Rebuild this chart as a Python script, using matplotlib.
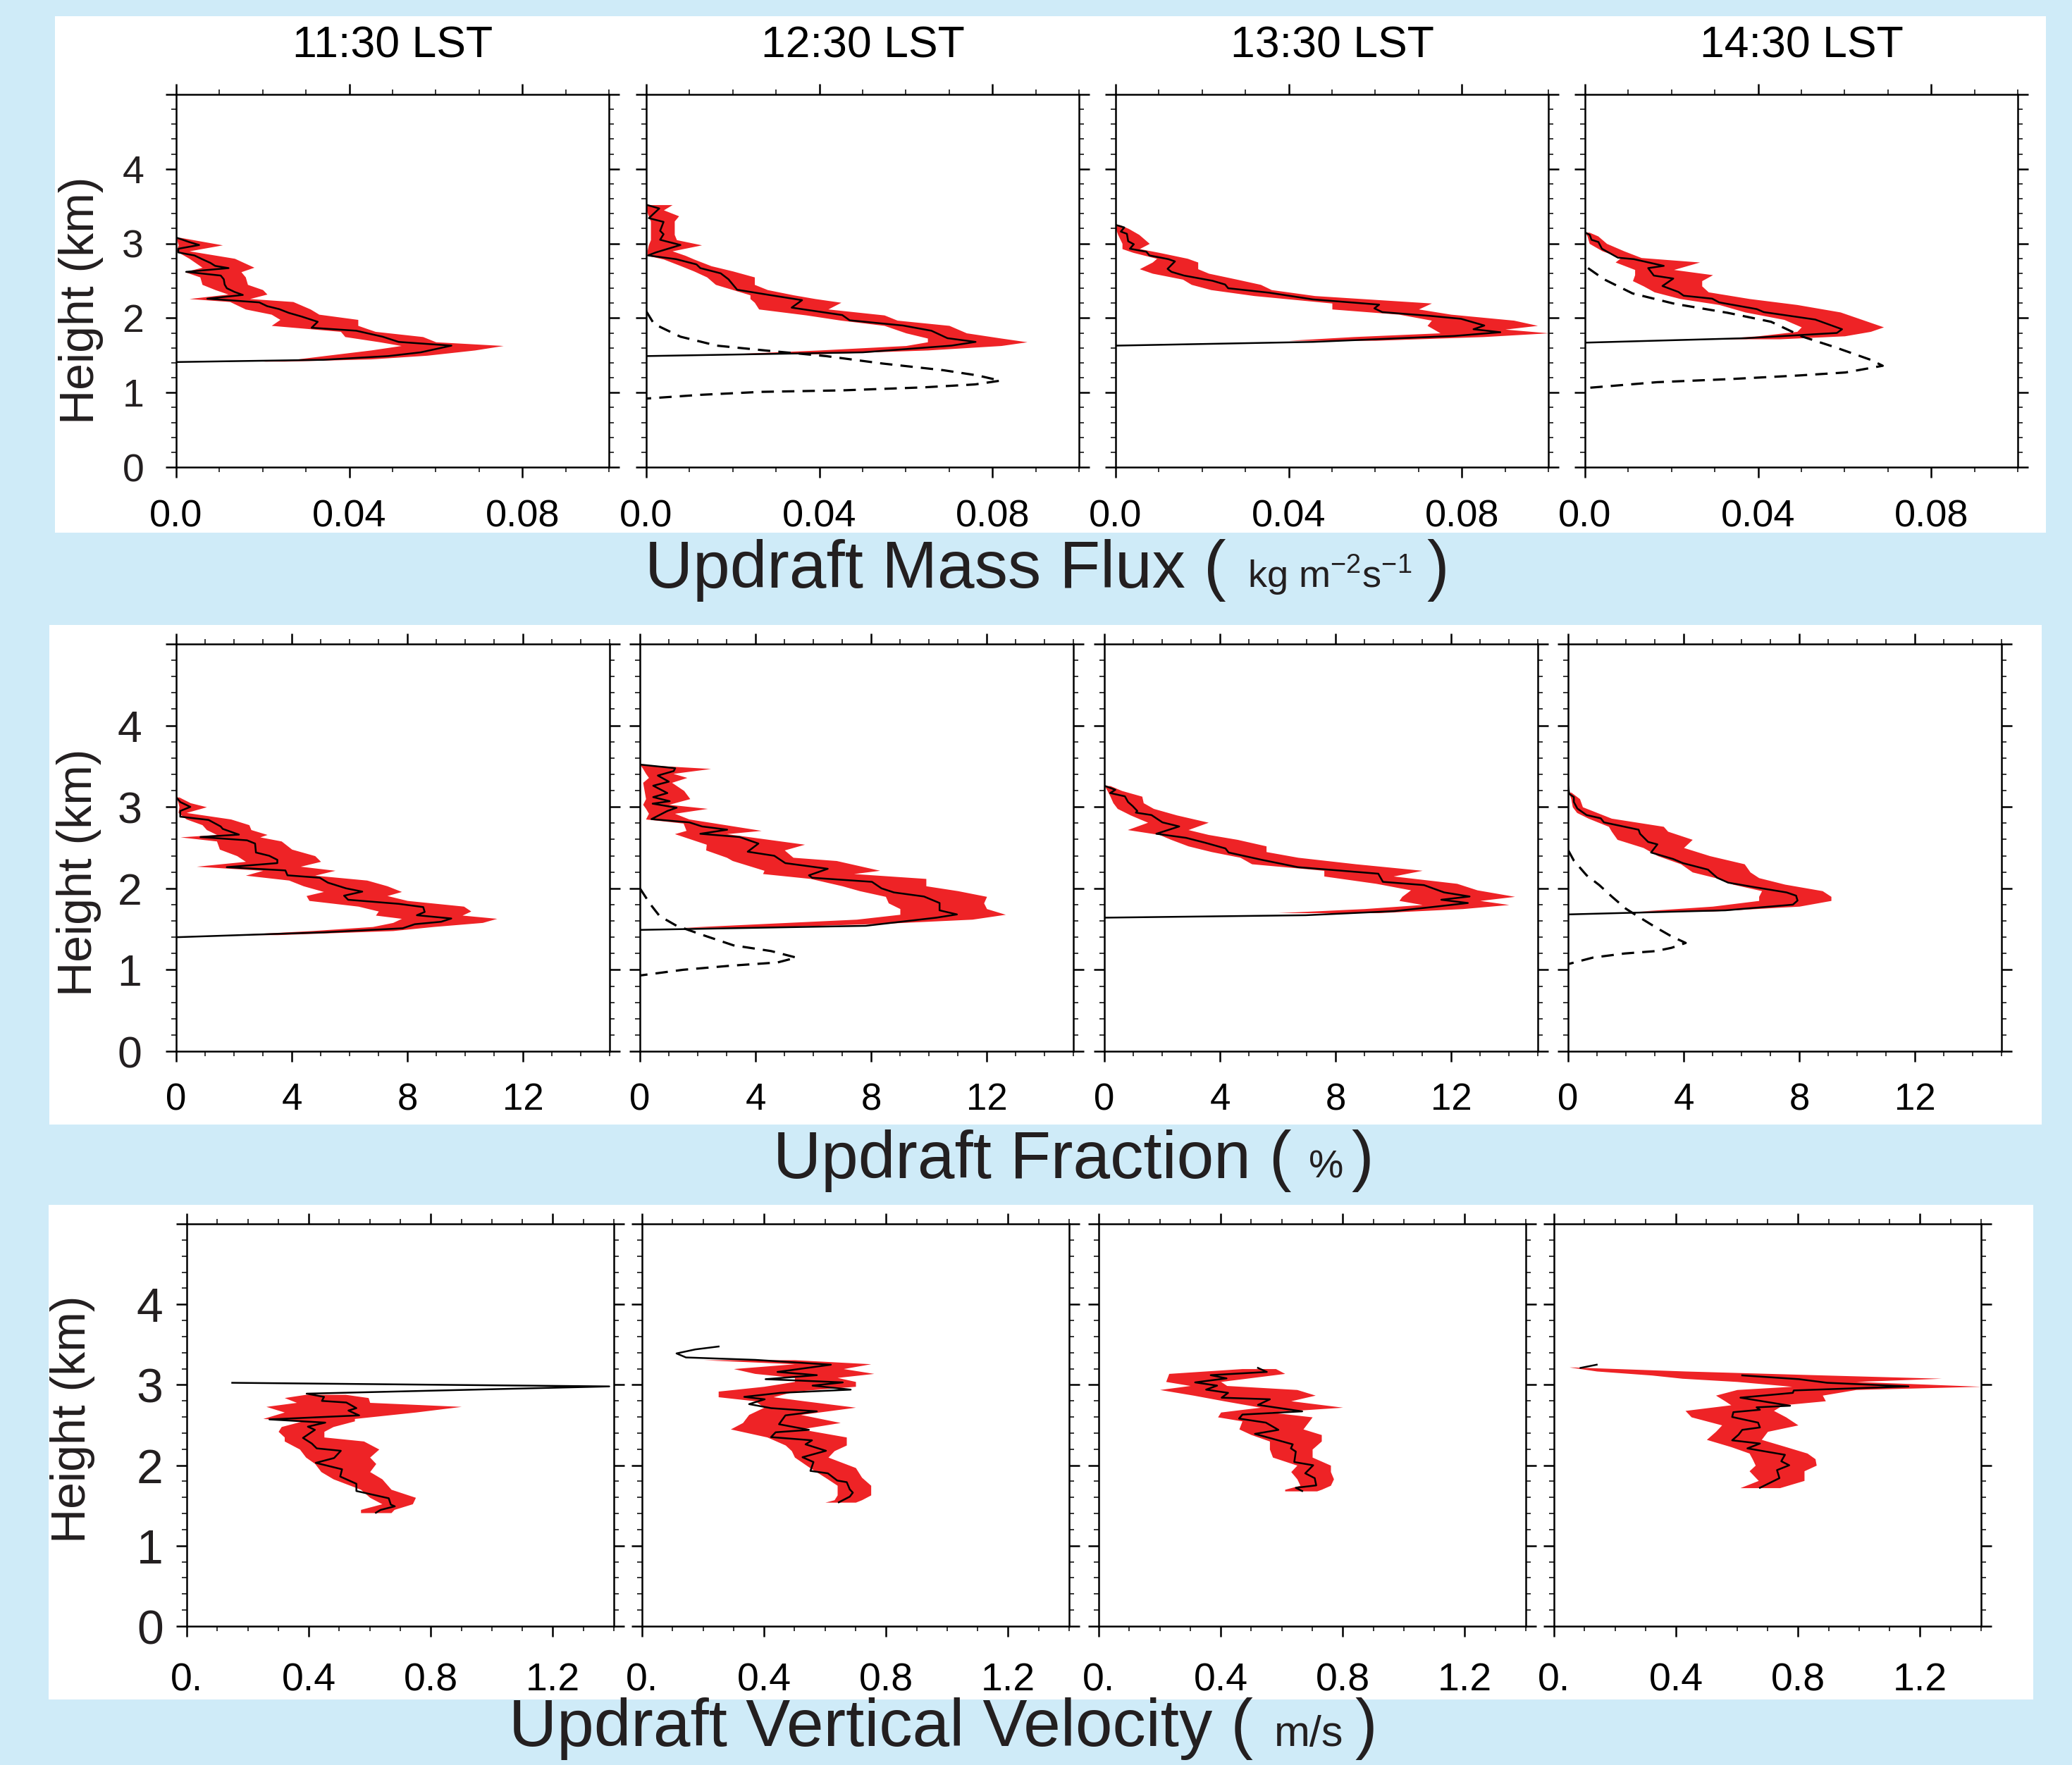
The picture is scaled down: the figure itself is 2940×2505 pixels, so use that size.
import matplotlib

matplotlib.use("Agg")

import matplotlib.pyplot as plt
import numpy as np
from matplotlib.patches import Rectangle
from matplotlib.ticker import FixedLocator, MultipleLocator

plt.rcParams["font.family"] = ["Liberation Sans", "DejaVu Sans"]
plt.rcParams["mathtext.fontset"] = "custom"
plt.rcParams["mathtext.rm"] = "Liberation Sans"
plt.rcParams["mathtext.default"] = "regular"

W, H = 2940, 2505
BG = "#CFEBF8"
RED = "#EE2326"
INK = "#231F20"

TIMES = ["11:30 LST", "12:30 LST", "13:30 LST", "14:30 LST"]

# ---------------- updraft mass flux (kg m-2 s-1) ----------------
mf_1130_h = [3.08, 3.02, 2.98, 2.93, 2.88, 2.84, 2.79, 2.74, 2.70, 2.67, 2.62, 2.57, 2.52, 2.45, 2.40, 2.35, 2.31,
             2.26, 2.21, 2.16, 2.12, 2.07, 2.02, 1.95, 1.87, 1.83, 1.75, 1.68, 1.63, 1.54, 1.49, 1.44, 1.41]
mf_1130_v = [0.0, 0.003, 0.0053, 0.0005, 0.0005, 0.0042, 0.006, 0.0079, 0.009, 0.0121, 0.0023, 0.0103, 0.011,
             0.0112, 0.0117, 0.0135, 0.0154, 0.0072, 0.0192, 0.021, 0.0238, 0.026, 0.029, 0.0327, 0.0313, 0.0416,
             0.0477, 0.0514, 0.0636, 0.0565, 0.049, 0.034, 0.0]
mf_1130_band_h = [3.08, 2.98, 2.9, 2.8, 2.68, 2.62, 2.55, 2.45, 2.38, 2.32, 2.26, 2.22, 2.12, 2.05, 1.98, 1.9,
                  1.82, 1.75, 1.68, 1.63, 1.57, 1.5, 1.45, 1.42]
mf_1130_lo = [0.0, 0.0005, 0.0, 0.003, 0.006, 0.002, 0.0055, 0.006, 0.009, 0.012, 0.003, 0.0124, 0.016, 0.022,
              0.024, 0.022, 0.038, 0.039, 0.047, 0.052, 0.045, 0.035, 0.028, 0.02]
mf_1130_hi = [0.001, 0.0107, 0.003, 0.0135, 0.018, 0.015, 0.016, 0.0165, 0.020, 0.021, 0.017, 0.027, 0.031, 0.033,
              0.042, 0.042, 0.046, 0.057, 0.060, 0.0756, 0.069, 0.058, 0.045, 0.025]

mf_1230_h = [3.52, 3.47, 3.34, 3.29, 3.17, 3.125, 3.05, 2.98, 2.88, 2.84, 2.79, 2.72, 2.67, 2.60, 2.52, 2.38,
             2.31, 2.24, 2.14, 2.04, 1.97, 1.90, 1.83, 1.73, 1.68, 1.63, 1.54, 1.49]
mf_1230_v = [0.0, 0.003, 0.0006, 0.004, 0.0032, 0.004, 0.0032, 0.0079, 0.0022, 0.0004, 0.0069, 0.0116, 0.0125,
             0.0172, 0.019, 0.021, 0.0284, 0.036, 0.0336, 0.0453, 0.047, 0.0593, 0.0659, 0.0696, 0.0761, 0.0705,
             0.05, 0.0]
mf_1230_band_h = [3.52, 3.45, 3.37, 3.3, 3.2, 3.12, 3.05, 2.98, 2.9, 2.84, 2.79, 2.7, 2.63, 2.55, 2.45, 2.38,
                  2.31, 2.26, 2.21, 2.12, 2.04, 1.97, 1.9, 1.8, 1.73, 1.68, 1.63, 1.57, 1.52]
mf_1230_lo = [0.0, 0.0, 0.0005, 0.001, 0.001, 0.001, 0.001, 0.0005, 0.0002, 0.0002, 0.004, 0.008, 0.011, 0.014,
              0.016, 0.020, 0.024, 0.024, 0.025, 0.026, 0.037, 0.045, 0.055, 0.06, 0.065, 0.065, 0.06, 0.04, 0.02]
mf_1230_hi = [0.006, 0.004, 0.0075, 0.0065, 0.0065, 0.0065, 0.007, 0.0128, 0.006, 0.009, 0.011, 0.015, 0.02,
              0.025, 0.025, 0.028, 0.034, 0.039, 0.045, 0.042, 0.055, 0.058, 0.07, 0.074, 0.082, 0.088, 0.082,
              0.065, 0.04]
mf_1230_dash_h = [2.09, 1.92, 1.75, 1.63, 1.56, 1.49, 1.39, 1.30, 1.23, 1.16, 1.11, 1.07, 1.03, 1.01, 0.97, 0.92]
mf_1230_dash_v = [0.0, 0.0018, 0.0079, 0.0163, 0.0284, 0.0415, 0.0546, 0.0687, 0.0766, 0.0818, 0.076, 0.064,
                  0.0453, 0.0266, 0.0125, 0.0]

mf_1330_h = [3.25, 3.215, 3.16, 3.13, 3.03, 2.99, 2.93, 2.89, 2.84, 2.79, 2.76, 2.66, 2.62, 2.57, 2.50, 2.45,
             2.40, 2.34, 2.25, 2.18, 2.13, 2.08, 2.03, 1.99, 1.90, 1.85, 1.81, 1.76, 1.68, 1.63]
mf_1330_v = [0.0, 0.002, 0.0012, 0.0026, 0.0029, 0.0042, 0.0033, 0.0071, 0.0078, 0.0122, 0.0137, 0.012, 0.0129,
             0.0158, 0.0224, 0.0253, 0.026, 0.0355, 0.0456, 0.0609, 0.0598, 0.0616, 0.0725, 0.0798, 0.0852, 0.0827,
             0.0889, 0.0783, 0.0456, 0.0]
mf_1330_band_h = [3.25, 3.2, 3.12, 3.0, 2.93, 2.88, 2.8, 2.75, 2.66, 2.6, 2.52, 2.45, 2.38, 2.3, 2.2, 2.12, 2.05,
                  1.97, 1.9, 1.85, 1.8, 1.75, 1.7]
mf_1330_lo = [0.0, 0.0, 0.0005, 0.0015, 0.0015, 0.004, 0.0095, 0.0085, 0.0055, 0.0085, 0.0155, 0.0175, 0.022,
              0.032, 0.05, 0.05, 0.0655, 0.073, 0.072, 0.0735, 0.075, 0.055, 0.04]
mf_1330_hi = [0.001, 0.003, 0.0054, 0.0078, 0.0055, 0.01, 0.0166, 0.019, 0.019, 0.0215, 0.028, 0.0335, 0.036,
              0.046, 0.073, 0.07, 0.0775, 0.092, 0.0975, 0.09, 0.1, 0.085, 0.06]

mf_1430_h = [3.15, 3.115, 3.05, 3.02, 2.93, 2.81, 2.79, 2.70, 2.67, 2.57, 2.53, 2.43, 2.35, 2.30, 2.26, 2.21,
             2.12, 2.08, 1.98, 1.85, 1.80, 1.73, 1.67]
mf_1430_v = [0.0, 0.0011, 0.0015, 0.0031, 0.0039, 0.0076, 0.0113, 0.0182, 0.0146, 0.0159, 0.0204, 0.0179, 0.0216,
             0.0228, 0.0294, 0.031, 0.0397, 0.0413, 0.0532, 0.0594, 0.0582, 0.0372, 0.0]
mf_1430_band_h = [3.15, 3.1, 3.0, 2.9, 2.81, 2.75, 2.65, 2.58, 2.5, 2.43, 2.35, 2.26, 2.18, 2.08, 1.98, 1.88,
                  1.82, 1.76, 1.72]
mf_1430_lo = [0.0, 0.0005, 0.001, 0.004, 0.0083, 0.007, 0.0115, 0.0115, 0.011, 0.0135, 0.016, 0.022, 0.031, 0.037,
              0.046, 0.050, 0.049, 0.04, 0.03]
mf_1430_hi = [0.001, 0.003, 0.005, 0.009, 0.013, 0.0265, 0.0205, 0.0295, 0.027, 0.027, 0.0285, 0.038, 0.049,
              0.059, 0.064, 0.069, 0.066, 0.06, 0.045]
mf_1430_dash_h = [2.67, 2.52, 2.33, 2.19, 2.07, 1.95, 1.75, 1.61, 1.44, 1.36, 1.27, 1.23, 1.18, 1.14, 1.06]
mf_1430_dash_v = [0.0007, 0.0044, 0.011, 0.0208, 0.033, 0.043, 0.0503, 0.0577, 0.066, 0.0688, 0.0602, 0.0495,
                  0.033, 0.0167, 0.0]

# ---------------- updraft fraction (%) ----------------
fr_1130_h = [3.12, 3.06, 3.0, 2.95, 2.88, 2.84, 2.76, 2.73, 2.66, 2.63, 2.59, 2.55, 2.44, 2.40, 2.35, 2.31, 2.26,
             2.22, 2.16, 2.13, 2.07, 2.0, 1.96, 1.91, 1.86, 1.81, 1.77, 1.71, 1.67, 1.63, 1.59, 1.56, 1.51, 1.46, 1.40]
fr_1130_v = [0.0, 0.14, 0.49, 0.14, 0.14, 1.12, 1.54, 1.61, 2.17, 0.84, 2.45, 2.73, 2.76, 3.22, 3.5, 3.5, 1.75,
             3.78, 3.85, 4.97, 5.25, 5.88, 6.44, 5.81, 5.95, 7.7, 8.55, 8.6, 8.33, 9.52, 9.17, 8.26, 7.84, 5.11, 0.0]
fr_1130_band_h = [3.12, 3.05, 3.0, 2.93, 2.85, 2.78, 2.72, 2.66, 2.63, 2.58, 2.48, 2.4, 2.33, 2.27, 2.22, 2.16,
                  2.1, 2.03, 1.96, 1.91, 1.85, 1.78, 1.72, 1.67, 1.63, 1.58, 1.53, 1.48, 1.43]
fr_1130_lo = [0.0, 0.07, 0.1, 0.07, 0.35, 0.9, 1.05, 1.4, 0.14, 1.4, 1.5, 2.1, 2.4, 0.7, 3.0, 2.4, 3.9, 4.4, 5.1,
              4.5, 4.6, 6.3, 7.0, 6.9, 7.8, 7.5, 6.8, 4.7, 2.0]
fr_1130_hi = [0.1, 0.49, 1.05, 0.35, 1.89, 2.52, 2.59, 3.15, 2.9, 3.64, 4.0, 4.8, 5.0, 4.3, 5.5, 4.8, 6.6, 7.3, 7.8,
              7.3, 8.0, 9.95, 10.2, 9.9, 11.1, 10.6, 8.9, 7.5, 3.5]

fr_1230_h = [3.52, 3.475, 3.44, 3.385, 3.31, 3.26, 3.17, 3.12, 3.07, 3.04, 2.99, 2.95, 2.85, 2.81, 2.76, 2.72,
             2.67, 2.63, 2.55, 2.45, 2.40, 2.31, 2.24, 2.16, 2.13, 2.08, 2.00, 1.95, 1.90, 1.82, 1.73, 1.68, 1.64,
             1.54, 1.49]
fr_1230_v = [0.0, 1.22, 1.17, 0.62, 1.0, 0.46, 0.95, 0.46, 1.03, 0.44, 1.27, 0.95, 0.4, 1.71, 2.15, 3.02, 2.09,
             3.45, 4.1, 3.73, 4.65, 5.03, 6.5, 5.85, 5.96, 8.03, 8.36, 8.79, 9.83, 10.37, 10.37, 10.97, 10.26, 7.81,
             0.0]
fr_1230_band_h = [3.52, 3.47, 3.41, 3.36, 3.3, 3.2, 3.1, 3.03, 2.98, 2.92, 2.85, 2.8, 2.71, 2.67, 2.54, 2.47, 2.38,
                  2.34, 2.22, 2.18, 2.12, 2.03, 1.97, 1.9, 1.82, 1.75, 1.68, 1.62, 1.57, 1.52]
fr_1230_lo = [0.0, 0.1, 0.2, 0.3, 0.1, 0.15, 0.2, 0.1, 0.2, 0.3, 0.2, 1.5, 1.6, 1.2, 2.3, 2.28, 3.0, 3.2, 4.3, 4.25,
              5.9, 7.0, 7.6, 8.5, 8.6, 9.0, 9.0, 7.5, 4.5, 1.5]
fr_1230_hi = [0.0, 2.45, 1.15, 1.63, 1.1, 1.52, 1.73, 1.0, 2.34, 1.2, 1.7, 2.6, 4.2, 3.0, 5.7, 5.0, 5.3, 6.8, 8.3,
              7.4, 9.9, 9.9, 11.0, 12.0, 11.9, 12.0, 12.65, 11.5, 8.5, 4.0]
fr_1230_dash_h = [2.0, 1.81, 1.66, 1.54, 1.43, 1.30, 1.23, 1.15, 1.09, 1.05, 1.0, 0.93]
fr_1230_dash_v = [0.0, 0.35, 0.68, 1.27, 2.15, 3.24, 4.54, 5.41, 4.76, 3.13, 1.49, 0.0]

fr_1330_h = [3.26, 3.21, 3.17, 3.13, 3.06, 3.01, 2.95, 2.93, 2.90, 2.81, 2.76, 2.67, 2.62, 2.56, 2.49, 2.44, 2.35,
             2.26, 2.18, 2.08, 2.04, 1.95, 1.90, 1.86, 1.82, 1.77, 1.72, 1.67, 1.64]
fr_1330_v = [0.0, 0.38, 0.2, 0.71, 0.82, 0.98, 1.14, 1.09, 1.63, 2.01, 2.59, 1.8, 2.83, 3.49, 4.19, 4.3, 5.45,
             6.7, 9.48, 9.64, 11.06, 11.76, 12.64, 11.66, 12.58, 11.33, 10.02, 6.97, 0.0]
fr_1330_band_h = [3.26, 3.2, 3.13, 3.05, 2.98, 2.9, 2.81, 2.72, 2.66, 2.6, 2.52, 2.45, 2.38, 2.3, 2.22, 2.15, 2.06,
                  1.98, 1.9, 1.85, 1.8, 1.75, 1.7]
fr_1330_lo = [0.0, 0.1, 0.2, 0.3, 0.45, 0.9, 1.5, 0.8, 1.9, 2.3, 2.9, 3.7, 4.7, 5.1, 7.6, 7.6, 9.4, 10.6, 10.3,
              10.2, 11.0, 9.0, 6.0]
fr_1330_hi = [0.2, 0.6, 1.3, 1.35, 1.7, 2.5, 3.6, 2.9, 3.6, 4.6, 5.6, 5.6, 6.7, 8.7, 11.0, 10.0, 12.2, 12.9, 14.2,
              13.0, 14.0, 12.4, 9.5]

fr_1430_h = [3.26, 3.16, 3.12, 3.06, 2.98, 2.90, 2.86, 2.81, 2.72, 2.67, 2.57, 2.54, 2.44, 2.36, 2.31, 2.23, 2.13,
             2.07, 2.01, 1.95, 1.91, 1.85, 1.80, 1.73, 1.68]
fr_1430_v = [0.0, 0.04, 0.2, 0.2, 0.32, 0.64, 1.13, 1.24, 2.44, 2.49, 2.77, 3.09, 2.87, 3.64, 3.97, 4.84, 5.16,
             5.54, 6.53, 7.56, 7.89, 7.94, 7.78, 5.44, 0.0]
fr_1430_band_h = [3.18, 3.1, 3.0, 2.93, 2.86, 2.76, 2.7, 2.6, 2.5, 2.4, 2.3, 2.2, 2.13, 2.05, 1.97, 1.9, 1.85, 1.78,
                  1.72]
fr_1430_lo = [0.02, 0.1, 0.15, 0.3, 0.7, 1.4, 1.5, 1.7, 2.6, 3.1, 3.9, 4.3, 5.1, 5.7, 6.7, 6.6, 6.6, 5.0, 2.5]
fr_1430_hi = [0.1, 0.4, 0.5, 1.0, 1.5, 3.3, 3.45, 4.3, 4.0, 4.9, 6.1, 6.3, 6.6, 7.5, 8.8, 9.1, 9.1, 8.0, 5.0]
fr_1430_dash_h = [2.47, 2.34, 2.16, 2.04, 1.90, 1.75, 1.64, 1.52, 1.41, 1.33, 1.27, 1.23, 1.20, 1.15, 1.07]
fr_1430_dash_v = [0.0, 0.2, 0.64, 1.08, 1.51, 2.0, 2.49, 3.04, 3.58, 4.07, 3.58, 3.04, 1.95, 0.86, 0.0]

# ---------------- updraft vertical velocity (m/s) ----------------
wv_1130_h = [3.025, 2.98, 2.89, 2.85, 2.80, 2.78, 2.71, 2.68, 2.62, 2.57, 2.53, 2.48, 2.44, 2.34, 2.27, 2.21, 2.18,
             2.09, 2.03, 1.95, 1.86, 1.77, 1.68, 1.59, 1.51, 1.49, 1.445, 1.41]
wv_1130_v = [0.149, 1.385, 0.393, 0.45, 0.443, 0.523, 0.556, 0.53, 0.565, 0.271, 0.454, 0.397, 0.42, 0.381, 0.41,
             0.426, 0.505, 0.483, 0.423, 0.509, 0.503, 0.556, 0.556, 0.662, 0.669, 0.682, 0.635, 0.62]
wv_1130_band_h = [2.88, 2.84, 2.78, 2.73, 2.66, 2.58, 2.55, 2.48, 2.42, 2.35, 2.3, 2.2, 2.1, 2.02, 1.92, 1.83, 1.7,
                  1.6, 1.52, 1.45, 1.41]
wv_1130_lo = [0.39, 0.32, 0.36, 0.26, 0.32, 0.25, 0.38, 0.31, 0.30, 0.32, 0.32, 0.37, 0.39, 0.42, 0.44, 0.48, 0.57,
              0.60, 0.64, 0.57, 0.57]
wv_1130_hi = [0.52, 0.595, 0.6, 0.9, 0.75, 0.55, 0.55, 0.48, 0.45, 0.45, 0.58, 0.63, 0.6, 0.62, 0.6, 0.64, 0.67,
              0.75, 0.74, 0.68, 0.67]

wv_1230_h = [3.476, 3.44, 3.39, 3.34, 3.31, 3.25, 3.16, 3.12, 3.07, 3.03, 2.99, 2.94, 2.90, 2.85, 2.82, 2.76, 2.71,
             2.67, 2.62, 2.51, 2.44, 2.41, 2.35, 2.31, 2.26, 2.18, 2.10, 2.04, 1.93, 1.90, 1.81, 1.79, 1.70, 1.66,
             1.61, 1.54]
wv_1230_v = [0.251, 0.175, 0.113, 0.144, 0.371, 0.619, 0.444, 0.573, 0.405, 0.658, 0.559, 0.684, 0.454, 0.335,
             0.402, 0.351, 0.423, 0.573, 0.47, 0.449, 0.547, 0.438, 0.423, 0.557, 0.536, 0.603, 0.526, 0.562, 0.552,
             0.609, 0.64, 0.671, 0.681, 0.691, 0.681, 0.645]
wv_1230_band_h = [3.31, 3.26, 3.2, 3.14, 3.09, 3.04, 2.98, 2.92, 2.85, 2.8, 2.72, 2.63, 2.53, 2.45, 2.35, 2.25,
                  2.18, 2.1, 1.97, 1.85, 1.75, 1.63, 1.57, 1.54]
wv_1230_lo = [0.2, 0.5, 0.3, 0.37, 0.5, 0.5, 0.4, 0.25, 0.25, 0.37, 0.40, 0.35, 0.33, 0.29, 0.41, 0.47, 0.49, 0.5,
              0.55, 0.6, 0.64, 0.64, 0.63, 0.6]
wv_1230_hi = [0.5, 0.75, 0.66, 0.76, 0.64, 0.70, 0.70, 0.50, 0.43, 0.53, 0.70, 0.52, 0.65, 0.52, 0.67, 0.67, 0.63,
              0.61, 0.70, 0.72, 0.75, 0.75, 0.72, 0.70]

wv_1330_h = [3.21, 3.16, 3.12, 3.08, 3.03, 2.99, 2.94, 2.90, 2.84, 2.82, 2.75, 2.67, 2.63, 2.58, 2.53, 2.44, 2.39,
             2.26, 2.21, 2.17, 2.04, 2.0, 1.90, 1.84, 1.75, 1.72, 1.68]
wv_1330_v = [0.522, 0.551, 0.367, 0.419, 0.316, 0.388, 0.352, 0.424, 0.403, 0.561, 0.522, 0.667, 0.471, 0.46,
             0.548, 0.589, 0.512, 0.636, 0.63, 0.646, 0.641, 0.703, 0.677, 0.708, 0.713, 0.646, 0.667]
wv_1330_band_h = [3.2, 3.14, 3.04, 2.99, 2.94, 2.87, 2.8, 2.72, 2.66, 2.6, 2.55, 2.45, 2.38, 2.3, 2.2, 2.1, 2.0,
                  1.92, 1.83, 1.75, 1.7, 1.68]
wv_1330_lo = [0.47, 0.23, 0.22, 0.30, 0.20, 0.31, 0.41, 0.53, 0.40, 0.39, 0.47, 0.46, 0.50, 0.56, 0.56, 0.57, 0.65,
              0.63, 0.65, 0.66, 0.61, 0.61]
wv_1330_hi = [0.58, 0.61, 0.40, 0.42, 0.65, 0.71, 0.63, 0.80, 0.56, 0.70, 0.69, 0.67, 0.73, 0.73, 0.70, 0.70, 0.76,
              0.76, 0.77, 0.76, 0.73, 0.715]

wv_1430_h = [3.25, 3.21, np.nan, 3.117, 3.07, 3.025, 2.98, 2.93, 2.90, 2.84, 2.74, 2.72, 2.69, 2.66, 2.60, 2.53,
             2.47, 2.44, 2.38, 2.31, 2.27, 2.21, 2.13, 2.05, 2.0, 1.94, 1.84, 1.72]
wv_1430_v = [0.14, 0.087, np.nan, 0.617, 0.803, 0.896, 1.162, 0.786, 0.783, 0.611, 0.774, 0.664, 0.675, 0.588,
             0.584, 0.669, 0.675, 0.617, 0.605, 0.584, 0.675, 0.634, 0.757, 0.745, 0.771, 0.731, 0.739, 0.675]
wv_1430_band_h = [3.22, 3.17, 3.12, 3.08, 3.04, 2.98, 2.94, 2.87, 2.8, 2.75, 2.68, 2.6, 2.5, 2.42, 2.32, 2.23, 2.15,
                  2.08, 2.0, 1.93, 1.81, 1.72]
wv_1430_lo = [0.05, 0.14, 0.32, 0.42, 0.6, 0.78, 0.60, 0.53, 0.56, 0.58, 0.43, 0.45, 0.55, 0.53, 0.50, 0.58, 0.64,
              0.65, 0.66, 0.64, 0.67, 0.61]
wv_1430_hi = [0.06, 0.43, 0.89, 1.27, 0.99, 1.4, 0.99, 0.88, 0.89, 0.75, 0.72, 0.76, 0.80, 0.70, 0.68, 0.76, 0.83,
              0.856, 0.86, 0.82, 0.82, 0.74]

height_ticks = [0, 1, 2, 3, 4, 5]
height_labels = ["0", "1", "2", "3", "4", ""]

mf_ticks = [0.0, 0.04, 0.08]
mf_labels = ["0.0", "0.04", "0.08"]
fr_ticks = [0, 4, 8, 12]
fr_labels = ["0", "4", "8", "12"]
wv_ticks = [0.0, 0.4, 0.8, 1.2]
wv_labels = ["0.", "0.4", "0.8", "1.2"]

ROWS = [
    dict(panels=[(mf_1130_h, mf_1130_v, mf_1130_band_h, mf_1130_lo, mf_1130_hi, None),
                 (mf_1230_h, mf_1230_v, mf_1230_band_h, mf_1230_lo, mf_1230_hi, (mf_1230_dash_h, mf_1230_dash_v)),
                 (mf_1330_h, mf_1330_v, mf_1330_band_h, mf_1330_lo, mf_1330_hi, None),
                 (mf_1430_h, mf_1430_v, mf_1430_band_h, mf_1430_lo, mf_1430_hi, (mf_1430_dash_h, mf_1430_dash_v))],
         xmax=0.1, xticks=mf_ticks, xlabels=mf_labels, xminor=0.01,
         top=134, bottom=663, lefts=[250, 917, 1583, 2249], width=614,
         box=(78, 23, 2903, 756), xsize=39, ysize=40, xpad=22, ypad=22, ylab=(115, 426)),
    dict(panels=[(fr_1130_h, fr_1130_v, fr_1130_band_h, fr_1130_lo, fr_1130_hi, None),
                 (fr_1230_h, fr_1230_v, fr_1230_band_h, fr_1230_lo, fr_1230_hi, (fr_1230_dash_h, fr_1230_dash_v)),
                 (fr_1330_h, fr_1330_v, fr_1330_band_h, fr_1330_lo, fr_1330_hi, None),
                 (fr_1430_h, fr_1430_v, fr_1430_band_h, fr_1430_lo, fr_1430_hi, (fr_1430_dash_h, fr_1430_dash_v))],
         xmax=15, xticks=fr_ticks, xlabels=fr_labels, xminor=1,
         top=914, bottom=1492, lefts=[250, 908, 1567, 2225], width=615,
         box=(70, 887, 2897, 1596), xsize=38, ysize=45, xpad=21, ypad=24, ylab=(112, 1238)),
    dict(panels=[(wv_1130_h, wv_1130_v, wv_1130_band_h, wv_1130_lo, wv_1130_hi, None),
                 (wv_1230_h, wv_1230_v, wv_1230_band_h, wv_1230_lo, wv_1230_hi, None),
                 (wv_1330_h, wv_1330_v, wv_1330_band_h, wv_1330_lo, wv_1330_hi, None),
                 (wv_1430_h, wv_1430_v, wv_1430_band_h, wv_1430_lo, wv_1430_hi, None)],
         xmax=1.4, xticks=wv_ticks, xlabels=wv_labels, xminor=0.1,
         top=1737, bottom=2308, lefts=[265, 911, 1559, 2205], width=606,
         box=(69, 1710, 2885, 2412), xsize=40, ysize=49, xpad=26, ypad=13, ylab=(103, 2014)),
]

XLABELS = [
    (915, 834, [("Updraft Mass Flux (", 68, 30), ("kg m$^{-2}$s$^{-1}$", 39, 22), (")", 68, 0)]),
    (1097, 1672, [("Updraft Fraction (", 68, 24), ("%", 40, 12), (")", 68, 0)]),
    (722, 2478, [("Updraft Vertical Velocity (", 68, 30), ("m/s", 44, 16), (")", 68, 0)]),
]


def fig_rect(x0, y0, x1, y1):
    return [x0 / W, 1 - y1 / H, (x1 - x0) / W, (y1 - y0) / H]


def style_axes(ax, row, first):
    ax.set_xlim(0, row["xmax"])
    ax.set_ylim(0, 5)
    ax.xaxis.set_major_locator(FixedLocator(row["xticks"]))
    ax.xaxis.set_minor_locator(MultipleLocator(row["xminor"]))
    ax.set_xticklabels(row["xlabels"])
    ax.yaxis.set_major_locator(FixedLocator(height_ticks))
    ax.yaxis.set_minor_locator(MultipleLocator(0.2))
    ax.set_yticklabels(height_labels if first else [""] * len(height_ticks))
    for sp in ax.spines.values():
        sp.set_linewidth(1.8)
    ax.tick_params(which="both", direction="out", top=True, right=True, color="black")
    ax.tick_params(which="major", length=11, width=1.8)
    ax.tick_params(which="minor", length=5, width=1.1)
    ax.tick_params(axis="x", which="major", labelsize=row["xsize"], pad=row["xpad"])
    ax.tick_params(axis="y", which="major", labelsize=row["ysize"], pad=row["ypad"], labelcolor=INK)


def draw_panel(ax, line_h, line_v, band_h, lo, hi, dash):
    ax.fill_betweenx(band_h, lo, hi, color=RED, lw=0, zorder=2)
    ax.plot(line_v, line_h, color="black", lw=1.8, zorder=3)
    if dash is not None:
        ax.plot(dash[1], dash[0], color="black", lw=2.3, ls=(0, (5.5, 3.6)), zorder=3)


fig = plt.figure(figsize=(W / 100, H / 100), dpi=100, facecolor=BG)

for row in ROWS:
    bx0, by0, bx1, by1 = row["box"]
    fig.add_artist(Rectangle((bx0 / W, 1 - by1 / H), (bx1 - bx0) / W, (by1 - by0) / H,
                             transform=fig.transFigure, facecolor="white", edgecolor="none", zorder=-1))
    for i, panel in enumerate(row["panels"]):
        left = row["lefts"][i]
        ax = fig.add_axes(fig_rect(left, row["top"], left + row["width"], row["bottom"]))
        ax.set_facecolor("white")
        draw_panel(ax, *panel)
        style_axes(ax, row, i == 0)
    fig.text(row["ylab"][0] / W, 1 - row["ylab"][1] / H, "Height (km)", rotation=90,
             ha="center", va="center", fontsize=49, color=INK)

first = ROWS[0]
for i, t in enumerate(TIMES):
    cx = first["lefts"][i] + first["width"] / 2
    fig.text(cx / W, 1 - 81 / H, t, ha="center", va="baseline", fontsize=45, color="black")

renderer = fig.canvas.get_renderer()
for x0, base, parts in XLABELS:
    x = x0
    for text, size, gap in parts:
        t = fig.text(x / W, 1 - base / H, text, ha="left", va="baseline", fontsize=size, color=INK)
        x += t.get_window_extent(renderer).width + gap

fig.savefig("out.png", dpi=100, facecolor=BG)
